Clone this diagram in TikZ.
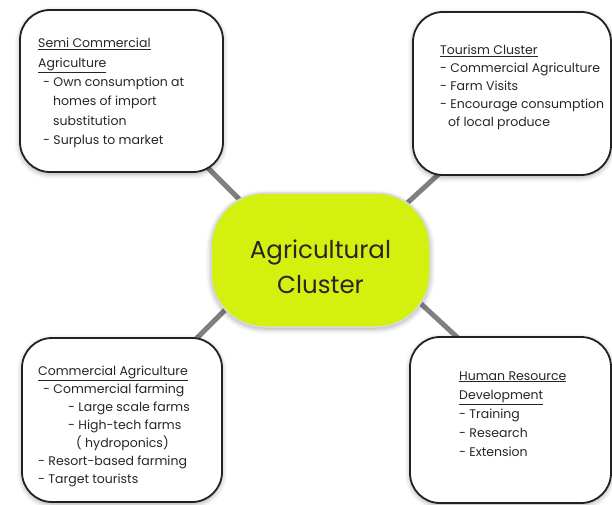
\documentclass[tikz,border=0pt]{standalone}
\usepackage{fontspec}
\setmainfont{Poppins}
\usetikzlibrary{positioning,calc,backgrounds,shadows.blur}

\definecolor{limefill}{HTML}{D4F00E}
\definecolor{boxline}{HTML}{222222}
\definecolor{linkgray}{HTML}{808080}

\begin{document}
\begin{tikzpicture}[
    x=1pt, y=-1pt,
    every node/.style={text=black!85},
    cluster box/.style={draw=boxline, line width=1.8pt, fill=white, rounded corners=30pt,
        inner sep=0pt, blur shadow={shadow xshift=0pt, shadow yshift=-2pt,
        shadow blur radius=5pt, shadow opacity=35}},
    hub/.style={draw=black!15, line width=1.5pt, fill=limefill, rounded corners=54pt,
        minimum width=219pt, minimum height=134pt, inner sep=0pt,
        blur shadow={shadow xshift=0pt, shadow yshift=-2pt, shadow blur radius=5pt, shadow opacity=35}},
    box text/.style={anchor=base west, align=left, inner sep=0pt},
    link/.style={draw=linkgray, line width=5pt},
]

\useasboundingbox (0,0) rectangle (612,505);

% Centre
\node[hub] (ctr) at (320.5,260) {};
\node[align=center, font=\fontsize{24.5}{35}\selectfont] (ctr-txt) at (320.5,267) {Agricultural\\Cluster};

% Outer boxes
\node[cluster box, minimum width=203pt, minimum height=162pt] (semi) at (121.5,91) {};
\node[cluster box, minimum width=198pt, minimum height=163pt] (tour) at (512,93.5) {};
\node[cluster box, minimum width=200pt, minimum height=164pt] (comm) at (122,420) {};
\node[cluster box, minimum width=201pt, minimum height=166pt] (hrd) at (510.5,420) {};

% Box texts (placed at the baseline of their last line)
\node[box text, font=\fontsize{12.5}{19.3}\selectfont] (semi-txt) at (38,144.5) {%
    \underline{Semi Commercial}\\
    \underline{Agriculture}\\
    \hspace*{5pt}- Own consumption at\\
    \hspace*{15pt}homes of import\\
    \hspace*{15pt}substitution\\
    \hspace*{5pt}- Surplus to market};
\node[box text, font=\fontsize{12.5}{18}\selectfont] (tour-txt) at (440,127) {%
    \underline{Tourism Cluster}\\
    - Commercial Agriculture\\
    - Farm Visits\\
    - Encourage consumption\\
    \hspace*{8pt}of local produce};
\node[box text, font=\fontsize{12.5}{18}\selectfont] (comm-txt) at (38,483) {%
    \underline{Commercial Agriculture}\\
    \hspace*{5pt}- Commercial farming\\
    \hspace*{30pt}- Large scale farms\\
    \hspace*{30pt}- High-tech farms\\
    \hspace*{38pt}( hydroponics)\\
    - Resort-based farming\\
    - Target tourists};
\node[box text, font=\fontsize{12.5}{19.2}\selectfont] (hrd-txt) at (459,456.8) {%
    \underline{Human Resource}\\
    \underline{Development}\\
    - Training\\
    - Research\\
    - Extension};

% Connectors
\begin{scope}[on background layer]
    \draw[link] ($(ctr.north west)+(44,22)$) -- ($(semi.south east)+(-28,-17)$);
    \draw[link] ($(ctr.north east)+(-38,24)$) -- ($(tour.south west)+(40,-14)$);
    \draw[link] ($(ctr.south west)+(29,-32)$) -- ($(comm.north east)+(-39,14)$);
    \draw[link] ($(ctr.south east)+(-25,-38)$) -- ($(hrd.north west)+(62,14)$);
\end{scope}

\end{tikzpicture}
\end{document}
